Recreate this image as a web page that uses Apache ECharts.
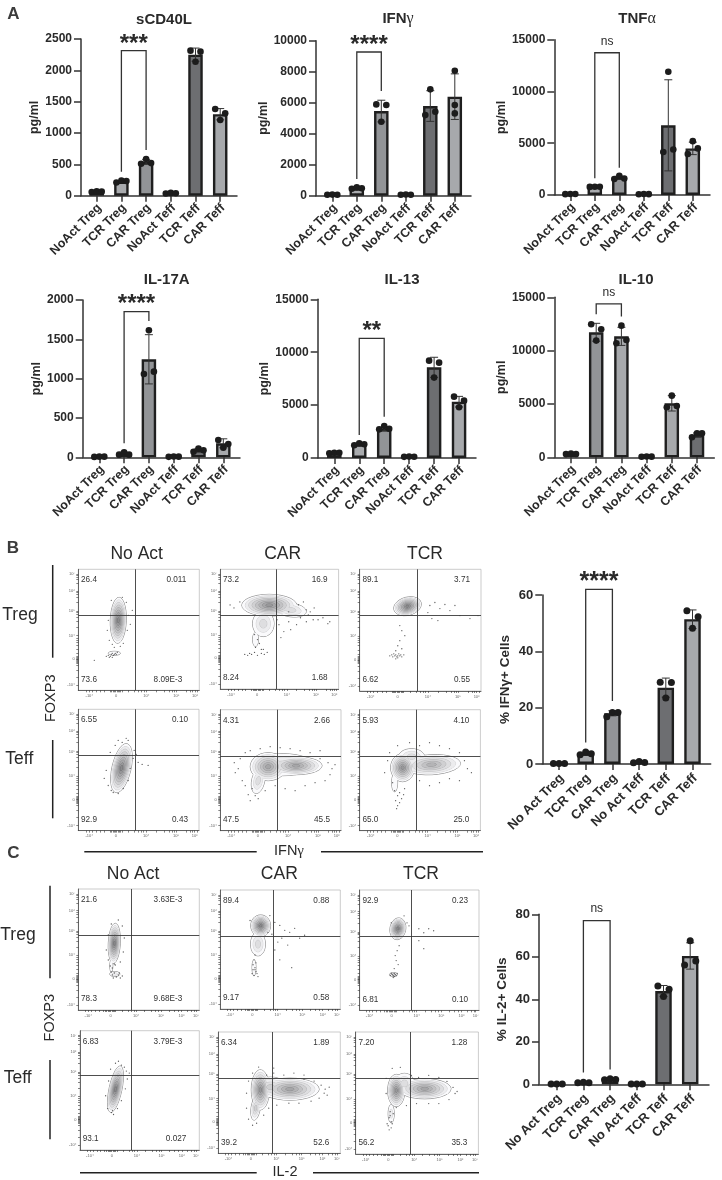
<!DOCTYPE html>
<html><head><meta charset="utf-8">
<style>html,body{margin:0;padding:0;background:#fff}#c{width:722px;height:1180px}</style>
<script src="https://cdn.jsdelivr.net/npm/echarts@6/dist/echarts.min.js"></script>
</head><body><div id="c"></div>
<script>
// ---------- category labels ----------
const catsA = ['NoAct Treg','TCR Treg','CAR Treg','NoAct Teff','TCR Teff','CAR Teff'];
const catsBC = ['No Act Treg','TCR Treg','CAR Treg','No Act Teff','TCR Teff','CAR Teff'];

// ---------- bar values (means, SD, three replicate dots: left, centre, right) ----------
const sCD40L_means = [65,225,540,40,2250,1300];
const sCD40L_sd = [8,15,40,6,105,90];
const sCD40L_dots = [[60,70,65],[210,240,235],[510,585,520],[35,45,40],[2314,2138,2298],[1383,1207,1314]];
const IFNg_means = [60,480,5460,70,5785,6390];
const IFNg_sd = [5,50,700,5,990,1470];
const IFNg_dots = [[60,70,60],[450,550,480],[5890,4770,5850],[60,80,60],[5200,6860,5420],[5310,8060,5850]];
const TNFa_means = [90,805,1670,80,6730,4500];
const TNFa_sd = [8,15,150,5,4400,600];
const TNFa_dots = [[80,90,90],[780,800,790],[1550,1850,1600],[70,90,80],[4150,11900,4400],[3960,5200,4500]];
const IL17A_means = [8,50,1246,8,93,178];
const IL17A_sd = [3,15,313,3,20,57];
const IL17A_dots = [[5,8,8],[34,64,34],[1059,1614,1089],[6,10,8],[70,110,90],[220,123,170]];
const IL13_means = [480,1300,2740,120,8570,5326];
const IL13_sd = [25,100,160,15,950,500];
const IL13_dots = [[450,500,490],[1200,1400,1300],[2710,3025,2770],[110,130,120],[9200,7600,9010],[5800,4790,5420]];
const IL10_means = [320,11720,11340,60,5060,2090];
const IL10_sd = [25,840,850,10,720,190];
const IL10_dots = [[300,350,310],[12470,10940,12000],[10690,12340,11000],[50,70,60],[4690,5780,4810],[1875,2250,2250]];
const pctIFNg_means = [0.2,3.7,18,0.6,27.1,51.4];
const pctIFNg_sd = [0.1,0.5,0.9,0.3,3.4,3.3];
const pctIFNg_dots = [[0.2,0.2,0.2],[3.3,4.3,3.6],[16.8,18.3,18.3],[0.4,0.9,0.5],[29,23.4,28.9],[54.4,48.2,52.3]];
const pctIL2_means = [0.2,0.8,2.3,0.2,43.9,60.4];
const pctIL2_sd = [0.1,0.2,0.3,0.1,2.6,6.2];
const pctIL2_dots = [[0.2,0.2,0.2],[0.7,1,0.7],[2.1,2.6,2.3],[0.2,0.2,0.2],[46.3,41.3,44.7],[56.2,67.5,58]];

// significance brackets: [from category, to category, top value, left leg end, right leg end, label value]
const sCD40L_bracket = [1,2,2314,383,729,2484];
const IFNg_bracket = [1,2,9270,1075,6750,9930];
const TNFa_bracket = [1,2,13740,1610,2640,14800];
const IL17A_bracket = [1,2,1852,178,1733,1992];
const IL13_bracket = [1,2,11310,2175,3900,12320];
const IL10_bracket = [1,2,14375,13400,13190,15470];
const pctIFNg_bracket = [1,2,62,7.6,22.4,65.9];
const pctIL2_bracket = [1,2,77,5.5,7,82.8];

// ---------- flow panels: gates [vertical, horizontal], quadrant percentages UL, UR, LL, LR ----------
const flowGates = {
 B1:[57,75],B2:[57,74.5],B3:[57,75],B4:[57,75.3],B5:[57,74.7],B6:[56.3,74.7],
 C1:[53.3,74.7],C2:[53,74],C3:[52,74.3],C4:[52.3,75.7],C5:[54,74.7],C6:[54,75]};
const flowQuadrants = {
 B1:['26.4','0.011','73.6','8.09E-3'],B2:['73.2','16.9','8.24','1.68'],B3:['89.1','3.71','6.62','0.55'],
 B4:['6.55','0.10','92.9','0.43'],B5:['4.31','2.66','47.5','45.5'],B6:['5.93','4.10','65.0','25.0'],
 C1:['21.6','3.63E-3','78.3','9.68E-3'],C2:['89.4','0.88','9.17','0.58'],C3:['92.9','0.23','6.81','0.10'],
 C4:['6.83','3.79E-3','93.1','0.027'],C5:['6.34','1.89','39.2','52.6'],C6:['7.20','1.28','56.2','35.3']};
// contour populations: [x, y, radius x, radius y, tilt degrees, levels]
const flowContours = {
 B1:[[40,70,8,23,-2,9],[36,37,6,2,0,1]],
 B2:[[44,66,11,13,0,3],[50,84.7,28,11,0,8],[72,80,16,7,-8,3],[36,50,3,7,0,1]],
 B3:[[47.7,84.3,14,9,15,9]],
 B4:[[43.3,62.3,9.5,25,-13,9]],
 B5:[[38,50,6.5,13,-12,3],[48,64,18,14,0,7],[76,65,26,9,0,7],[63,66,30,11,0,3]],
 B6:[[43,63,12,14,0,8],[72,66,29,10,3,6],[52,74,13,8,0,3],[35,48,3,9,0,1]],
 C1:[[36,66.7,6,20,-3,9],[36.5,36,5,2.5,0,2],[33,44,1.5,6,0,1]],
 C2:[[38,66,7.5,12,0,3],[40.7,84.7,10,11,0,9],[34,42,2,8,0,1]],
 C3:[[38.7,82,8,11,-10,9],[34.3,36,4,2,0,2]],
 C4:[[36,61.7,6.5,24,-12,9]],
 C5:[[37,45,4.5,12,-8,4],[41.7,63.3,9,20,0,8],[71,64,29,11,0,7],[52,66,16,10,0,4]],
 C6:[[40,63,8.5,16,0,8],[68,64.7,26,10,0,7],[35,40,3,9,0,2],[48,70,10,10,0,3]]
};
// individual events outside the contours, in channel units
const flowEvents = {
 B1:[[31,50],[34,46],[45,47],[49,60],[50,75],[48,88],[33,90],[30,70],[29,60],[44,93],[52,66],[54,80],[36,43],[42,44],[28,34],[30,35],[32,34],[33,36],[34,37],[35,35],[36,36],[37,37],[38,36],[39,38],[31,33],[34,33],[16,30]],
 B2:[[10,85],[14,82],[20,88],[80,85],[85,88],[88,80],[90,75],[92,78],[96,82],[100,70],[105,72],[110,66],[112,68],[95,70],[88,68],[82,72],[78,65],[72,60],[70,68],[65,58],[60,65],[62,52],[58,70],[70,78],[35,55],[38,50],[40,46],[36,42],[42,40],[30,36],[32,35],[35,37],[38,34],[42,36],[45,35],[48,37],[28,34],[25,35],[44,40]],
 B3:[[70,85],[75,88],[80,82],[85,86],[90,80],[95,85],[68,78],[72,72],[78,70],[100,75],[110,72],[118,75],[40,65],[42,60],[45,55],[40,50],[38,45],[42,42],[36,40],[30,35],[32,36],[33,34],[34,37],[35,35],[36,36],[37,34],[38,35],[39,37],[40,35],[41,36],[42,34],[44,36],[36,32],[38,33]],
 B4:[[30,45],[33,40],[35,38],[40,37],[45,42],[50,50],[52,62],[55,72],[56,80],[50,90],[44,88],[37,85],[32,78],[28,60],[26,52],[60,68],[64,66],[70,65],[58,76],[48,92],[40,90]],
 B5:[[18,62],[15,58],[14,68],[20,72],[25,78],[30,80],[40,82],[50,84],[60,83],[70,82],[80,80],[90,78],[100,72],[108,68],[112,62],[110,56],[105,50],[95,48],[85,45],[75,40],[65,42],[55,45],[45,40],[35,35],[30,30],[28,36],[32,42],[38,32],[25,45],[22,50],[115,66],[100,80]],
 B6:[[25,58],[28,70],[30,78],[38,85],[50,88],[60,85],[70,88],[80,85],[90,82],[100,78],[105,70],[108,62],[112,58],[100,50],[90,52],[80,48],[70,45],[60,50],[45,42],[38,35],[36,30],[40,28],[38,25],[42,32],[35,40],[33,48],[40,38],[37,22],[44,36]],
 C1:[[28,60],[30,75],[33,86],[40,90],[44,84],[46,72],[45,58],[42,48],[30,50],[32,44],[34,42],[36,46],[33,38],[35,32],[38,33],[40,35],[42,32],[44,34],[34,35],[36,37],[41,37],[37,45]],
 C2:[[30,90],[50,95],[55,88],[60,85],[65,80],[70,78],[75,82],[80,72],[85,75],[62,72],[58,68],[68,65],[55,60],[60,50],[72,42],[48,78],[52,76],[35,55],[34,50],[33,45],[35,42],[36,38],[32,36],[34,34],[37,36],[35,40],[38,33],[33,40],[36,47]],
 C3:[[32,88],[45,95],[48,88],[50,85],[60,82],[65,78],[70,82],[75,80],[60,70],[65,62],[40,65],[38,60],[36,55],[37,50],[39,46],[35,42],[31,35],[32,37],[33,36],[34,35],[35,34],[36,36],[35,37],[37,35],[34,33],[38,37]],
 C4:[[28,42],[32,38],[34,36],[38,42],[42,50],[46,62],[48,72],[47,80],[42,86],[36,88],[31,82],[29,70],[26,55],[45,84],[50,78],[39,90],[33,40]],
 C5:[[28,60],[30,72],[34,80],[40,86],[48,78],[55,80],[65,78],[75,80],[85,78],[95,72],[102,68],[105,60],[100,55],[92,52],[80,50],[70,50],[58,48],[50,45],[45,38],[38,30],[34,28],[30,34],[28,45],[106,64],[108,58],[110,66],[55,85],[85,74]],
 C6:[[30,60],[30,75],[36,85],[44,86],[55,78],[62,76],[72,78],[82,76],[90,72],[96,66],[98,60],[92,54],[82,50],[72,50],[60,50],[50,48],[40,46],[34,42],[33,36],[35,32],[32,28],[36,30],[34,38],[31,30],[37,40],[33,24],[100,62],[35,26]]
};
// flow axis tick labels
const flowYLabels = [[5,'-10⁴'],[31,'0'],[54.7,'10⁴'],[79,'10⁵'],[99.3,'10⁶'],[116,'10⁷']];
const flowXLabelsB = [[11,'-10⁴'],[37.7,'0'],[68,'10⁴'],[98,'10⁵'],[116.7,'10⁶']];
const flowXLabelsC = [[10,'-10⁴'],[32.3,'0'],[57.7,'10⁴'],[82.7,'10⁵'],[103.3,'10⁶'],[117.7,'10⁷']];
const flowYTicks = [5,13,20,25,27.5,28.5,29.5,30.5,31,31.5,32.5,33.5,34.5,37,41,45,48,50.5,52.5,54.7,63,69,73,76,78,79,88,93,96,98,99.3,107,111,113,115,116];
const flowXTicksB = [8,11,14,18,22,26,32,33.3,34.6,35.9,37.2,38.5,39.8,41.1,42.4,43.7,50,56,60,63,65.5,68,78,86,91,94,96,98,108,112,114,116.7,119];
const flowXTicksC = [7,10,13,17,21,25,27,28.3,29.6,30.9,32.2,33.5,34.8,36.1,37.4,44,50,53,55.5,57.7,66,73,77,80,82.7,91,96,100,103.3,109,113,116,117.7];

// ---------- fills ----------
const greysA = ['#8a8c8f','#a9abae','#929497','#8a8c8f','#6d6e71','#a7a9ac'];
const greysIL10 = ['#8a8c8f','#929497','#a7a9ac','#8a8c8f','#a7a9ac','#6d6e71'];

// ---------- layout of the bar panels ----------
const barPanels = [
 {title:'{b|sCD40L}',tx:159,ty:15,cats:catsA,m:sCD40L_means,s:sCD40L_sd,d:sCD40L_dots,br:sCD40L_bracket,sig:'***',name:'pg/ml',max:2500,step:500,l:81,r:237,t:39,b:195.7,c0:96.7,dc:24.7,bw:14.5,fills:greysA,jit:null,ng:40},
 {title:'{b|IFN}{g|γ}',tx:393,ty:14,cats:catsA,m:IFNg_means,s:IFNg_sd,d:IFNg_dots,br:IFNg_bracket,sig:'****',name:'pg/ml',max:10000,step:2000,l:316,r:471,t:40.7,b:195.7,c0:332.3,dc:24.5,bw:14.5,fills:greysA,jit:{5:[0,0,0]},ng:44},
 {title:'{b|TNF}{g|α}',tx:632,ty:14,cats:catsA,m:TNFa_means,s:TNFa_sd,d:TNFa_dots,br:TNFa_bracket,sig:'ns',name:'pg/ml',max:15000,step:5000,l:554.3,r:710,t:39.7,b:195,c0:570.3,dc:24.5,bw:14.5,fills:greysA,jit:null,ng:44.5},
 {title:'{b|IL-17A}',tx:161.7,ty:275,cats:catsA,m:IL17A_means,s:IL17A_sd,d:IL17A_dots,br:IL17A_bracket,sig:'****',name:'pg/ml',max:2000,step:500,l:82.7,r:240,t:300,b:457.3,c0:99.3,dc:24.8,bw:14.5,fills:greysA,jit:null,ng:40},
 {title:'{b|IL-13}',tx:397,ty:275,cats:catsA,m:IL13_means,s:IL13_sd,d:IL13_dots,br:IL13_bracket,sig:'**',name:'pg/ml',max:15000,step:5000,l:317.7,r:476,t:299.3,b:458,c0:334.3,dc:24.95,bw:14.5,fills:greysA,jit:null,ng:45.7},
 {title:'{b|IL-10}',tx:631,ty:275,cats:catsA,m:IL10_means,s:IL10_sd,d:IL10_dots,br:IL10_bracket,sig:'ns',name:'pg/ml',max:15000,step:5000,l:554.3,r:714.3,t:297.3,b:457.3,c0:571,dc:25.2,bw:14.5,fills:greysIL10,jit:null,ng:46},
 {title:'',tx:0,ty:0,cats:catsBC,m:pctIFNg_means,s:pctIFNg_sd,d:pctIFNg_dots,br:pctIFNg_bracket,sig:'****',name:'% IFNγ+ Cells',max:60,step:20,l:542.3,r:710.7,t:595,b:764,c0:559,dc:26.7,bw:16.5,fills:greysA,jit:null,ng:30,big:true},
 {title:'',tx:0,ty:0,cats:catsBC,m:pctIL2_means,s:pctIL2_sd,d:pctIL2_dots,br:pctIL2_bracket,sig:'ns',name:'% IL-2+ Cells',max:80,step:20,l:539,r:709,t:914.3,b:1084.3,c0:556.7,dc:26.7,bw:16.5,fills:greysA,jit:null,ng:30,big:true}
];
const flowPanels = [
 ['B1',78.3,569.3,121,121],['B2',220.3,569.3,118.3,119.7],['B3',359.7,569.3,121.3,121.7],
 ['B4',78.3,709.3,120.7,121.3],['B5',220.3,709.7,120.7,121],['B6',359.7,709.7,120.7,121],
 ['C1',78.3,889,121,121],['C2',220.3,890,120,119],['C3',359.7,890,119.3,120.3],
 ['C4',80,1030.7,119.3,119.3],['C5',218.3,1032,122,121.3],['C6',355.7,1032,122.7,122]
];

const ink = '#2a2a2a', FF = '"Liberation Sans", Arial, sans-serif';
const grid=[], xAxis=[], yAxis=[], series=[], title=[], graphic=[];

barPanels.forEach((p,i)=>{
  grid.push({left:p.l,top:p.t,width:p.r-p.l,height:p.b-p.t});
  const idx=[0,1,2,3,4,5], fs=p.big?13:12.5;
  xAxis.push({type:'value',gridIndex:i,min:-(p.c0-p.l)/p.dc,max:(p.r-p.c0)/p.dc,
    axisLine:{onZero:false,lineStyle:{color:'#333',width:1.5}},
    axisTick:{customValues:idx,length:6,lineStyle:{color:'#333',width:1.5}},
    axisLabel:{customValues:idx,rotate:45,margin:p.big?15:13,padding:[0,-4,0,0],color:ink,fontFamily:FF,fontWeight:'bold',fontSize:fs,formatter:v=>p.cats[v]},
    splitLine:{show:false}});
  yAxis.push({type:'value',gridIndex:i,min:0,max:p.max,interval:p.step,
    name:p.name,nameLocation:'middle',nameRotate:90,nameGap:p.ng,
    nameTextStyle:{color:ink,fontFamily:FF,fontWeight:'bold',fontSize:p.big?13.5:12.5},
    axisLine:{onZero:false,lineStyle:{color:'#333',width:1.5}},
    axisTick:{length:7,lineStyle:{color:'#333',width:1.5}},
    axisLabel:{margin:9,color:ink,fontFamily:FF,fontWeight:'bold',fontSize:p.big?13:12,formatter:v=>String(v)},
    splitLine:{show:false}});
  series.push({type:'bar',xAxisIndex:i,yAxisIndex:i,barWidth:p.bw,z:2,silent:true,
    data:p.m.map((v,k)=>({value:[k,v],itemStyle:{color:p.fills[k],borderColor:'#1f1f1f',borderWidth:2.4}}))});
  series.push({type:'custom',xAxisIndex:i,yAxisIndex:i,z:3,silent:true,
    data:p.m.map((v,k)=>[k,v-p.s[k],v+p.s[k]]),
    encode:{x:0,y:[1,2]},
    renderItem:(params,api)=>{
      const a=api.coord([api.value(0),api.value(1)]),b=api.coord([api.value(0),api.value(2)]);
      const st={stroke:'#333',lineWidth:1,fill:null};
      return {type:'group',children:[
        {type:'line',shape:{x1:a[0],y1:a[1],x2:b[0],y2:b[1]},style:st},
        {type:'line',shape:{x1:a[0]-4,y1:a[1],x2:a[0]+4,y2:a[1]},style:st},
        {type:'line',shape:{x1:b[0]-4,y1:b[1],x2:b[0]+4,y2:b[1]},style:st}]};
    }});
  const dots=[];
  p.d.forEach((tr,k)=>tr.forEach((v,j)=>{
    const off=p.jit&&p.jit[k]?p.jit[k]:(p.big?[-5.6,0,5.6]:[-5,0,5]);
    dots.push({value:[k,v],symbolOffset:[off[j],0]});
  }));
  series.push({type:'scatter',xAxisIndex:i,yAxisIndex:i,z:4,silent:true,clip:false,symbolSize:p.big?7:6.6,
    itemStyle:{color:'#1c1c1c',opacity:1},data:dots});
  series.push({type:'custom',xAxisIndex:i,yAxisIndex:i,z:5,silent:true,clip:false,
    data:[p.br],encode:{x:[0,1],y:[2,3,4,5]},
    renderItem:(params,api)=>{
      const x1=api.value(0),x2=api.value(1),top=api.value(2),l1=api.value(3),l2=api.value(4),lab=api.value(5);
      const A=api.coord([x1,l1]),B=api.coord([x1,top]),C=api.coord([x2,top]),D=api.coord([x2,l2]),T=api.coord([(x1+x2)/2,lab]);
      const isNs=p.sig==='ns';
      return {type:'group',children:[
        {type:'polyline',shape:{points:[A,B,C,D]},style:{stroke:'#333',lineWidth:1.3,fill:null}},
        {type:'text',style:{x:T[0],y:isNs?T[1]:T[1]+4,text:p.sig,align:'center',verticalAlign:'middle',fill:ink,
          font:isNs?('12px '+FF):('bold '+(p.big?25:24)+'px '+FF)}}]};
    }});
  if(p.title) title.push({text:p.title,left:p.tx,top:p.ty,textAlign:'center',textVerticalAlign:'middle',
    textStyle:{rich:{b:{fontFamily:FF,fontWeight:'bold',fontSize:15,color:ink},g:{fontFamily:'"Liberation Serif",serif',fontWeight:'normal',fontSize:16,color:ink}}}});
});

flowPanels.forEach((fp,n)=>{
  const i=barPanels.length+n, key=fp[0], isB=key[0]==='B';
  grid.push({left:fp[1],top:fp[2],width:fp[3],height:fp[4],show:true,borderColor:'#aaa',borderWidth:0.6,backgroundColor:'transparent'});
  const xl=isB?flowXLabelsB:flowXLabelsC, xt=isB?flowXTicksB:flowXTicksC;
  const lab=(list)=>(v)=>{const f=list.find(e=>e[0]===v);return f?f[1]:'';};
  const axisBase=(list,ticks)=>({type:'value',gridIndex:i,min:0,max:121,
    axisLine:{onZero:false,lineStyle:{color:'#444',width:0.8}},
    axisTick:{customValues:ticks,length:2,lineStyle:{color:'#333',width:0.6}},
    axisLabel:{customValues:list.map(e=>e[0]),formatter:lab(list),margin:3.5,fontSize:4,color:'#666',fontFamily:FF,hideOverlap:false},
    splitLine:{show:false}});
  xAxis.push(axisBase(xl,xt));
  yAxis.push(axisBase(flowYLabels,flowYTicks));
  const blobs=flowContours[key], maxLev=Math.max(...blobs.map(b=>b[5]));
  series.push({type:'custom',xAxisIndex:i,yAxisIndex:i,z:2,silent:true,clip:true,
    data:[[0,0]],encode:{x:0,y:1},
    renderItem:(params,api)=>{
      const kids=[];
      for(let lev=0;lev<maxLev;lev++){
        const shade=Math.round(250-lev*14), polys=[];
        blobs.forEach(b=>{
          if(lev>=b[5]) return;
          const s=1-lev/b[5], tilt=b[4]*Math.PI/180, pts=[];
          for(let a=0;a<28;a++){
            const t=a/28*2*Math.PI, ex=b[2]*s*Math.cos(t), ey=b[3]*s*Math.sin(t);
            pts.push(api.coord([b[0]+ex*Math.cos(tilt)-ey*Math.sin(tilt),b[1]+ex*Math.sin(tilt)+ey*Math.cos(tilt)]));
          }
          polys.push(pts);
        });
        const edge=lev===0?'#555':'rgb('+(shade-42)+','+(shade-42)+','+(shade-40)+')';
        polys.forEach(pts=>kids.push({type:'polygon',shape:{points:pts},style:{fill:edge,stroke:edge,lineWidth:lev===0?0.6:0.5}}));
        polys.forEach(pts=>kids.push({type:'polygon',shape:{points:pts},style:{fill:'rgb('+shade+','+shade+','+(shade+2)+')',stroke:null}}));
      }
      return {type:'group',children:kids};
    }});
  series.push({type:'scatter',xAxisIndex:i,yAxisIndex:i,z:3,silent:true,symbolSize:1.3,
    itemStyle:{color:'#333'},data:flowEvents[key],
    markLine:{silent:true,symbol:'none',label:{show:false},animation:false,z:6,
      lineStyle:{color:'#3a3a3a',width:0.9,type:'solid'},
      data:[{xAxis:flowGates[key][0]},{yAxis:flowGates[key][1]}]}});
  const q=flowQuadrants[key], rOff=s=>s.length>=7?17:(s.length===5?13:11);
  const L=fp[1],T=fp[2],R=fp[1]+fp[3],Bt=fp[2]+fp[4];
  const qt=(x,y,t,al)=>graphic.push({type:'text',x,y,z:20,silent:true,style:{text:t,align:al,verticalAlign:'middle',fill:'#333',font:'8.2px '+FF}});
  qt(L+2.7,T+10.7,q[0],'left'); qt(R-rOff(q[1]),T+10.7,q[1],'right');
  qt(L+2.7,Bt-11,q[2],'left'); qt(R-rOff(q[3]),Bt-11,q[3],'right');
});

// ---------- figure annotations ----------
function txt(x,y,t,size,opt){opt=opt||{};graphic.push({type:'text',x,y,z:20,silent:true,rotation:opt.rot||0,
  style:{text:t,align:opt.align||'center',verticalAlign:'middle',fill:opt.fill||ink,font:(opt.bold?'bold ':'')+size+'px '+(opt.ff||FF)}});}
function ln(x1,y1,x2,y2,w){graphic.push({type:'line',z:20,silent:true,shape:{x1,y1,x2,y2},style:{stroke:'#222',lineWidth:w||1.5}});}
txt(13.5,14.5,'A',17,{bold:true,fill:'#3c3c3c'});
txt(13,548,'B',17,{bold:true,fill:'#3c3c3c'});
txt(13.5,853,'C',17,{bold:true,fill:'#3c3c3c'});
[[136.7,'No Act'],[282.7,'CAR'],[425,'TCR']].forEach(a=>txt(a[0],554,a[1],17.5));
[[133,'No Act'],[279.3,'CAR'],[421,'TCR']].forEach(a=>txt(a[0],874.3,a[1],17.5));
txt(20,615.5,'Treg',17.5);txt(19.3,759,'Teff',17.5);txt(18,935,'Treg',17.5);txt(17.7,1078,'Teff',17.5);
ln(52.7,565,52.7,657.7);ln(52.7,740,52.7,818.3);
ln(50,885.7,50,978.3);ln(50,1060,50,1139.3);
txt(50.7,698.3,'FOXP3',14.5,{rot:Math.PI/2});
txt(50,1017.7,'FOXP3',14.5,{rot:Math.PI/2});
ln(84.3,851.7,256.7,851.7);ln(321,851.7,483,851.7);
ln(80,1172.7,256.7,1172.7);ln(313,1172.7,479,1172.7);
graphic.push({type:'text',x:289,y:851,z:20,silent:true,style:{
  text:'{a|IFN}{g|γ}',align:'center',verticalAlign:'middle',
  rich:{a:{font:'14.5px '+FF,fill:ink},g:{font:'15px "Liberation Serif",serif',fill:ink}}}});
txt(285,1172,'IL-2',14.5);

const chart=echarts.init(document.getElementById('c'),null,{renderer:'canvas'});
chart.setOption({animation:false,backgroundColor:'#fff',title,grid,xAxis,yAxis,series,graphic});
</script></body></html>
